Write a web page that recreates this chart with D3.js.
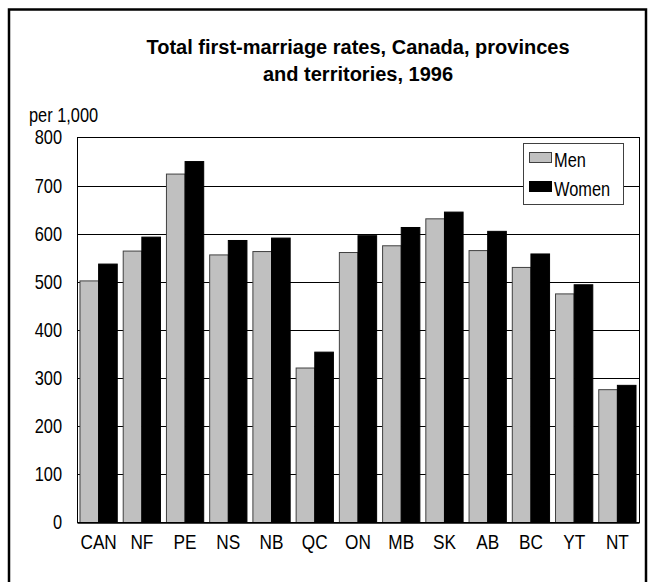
<!DOCTYPE html>
<html>
<head>
<meta charset="utf-8">
<script src="https://cdn.jsdelivr.net/npm/d3@7"></script>
<style>
  body { margin: 0; background: #fff; }
  text { font-family: "Liberation Sans", Arial, sans-serif; }
  .title { font-weight: bold; }
</style>
</head>
<body>
<div id="chart"></div>
<script>
// données : taux de primo-nuptialité, 1996 (pour 1 000)
const categories = ["CAN", "NF", "PE", "NS", "NB", "QC", "ON", "MB", "SK", "AB", "BC", "YT", "NT"];
const series = ["Men", "Women"];
const men   = [502, 564, 724, 556, 563, 321, 561, 575, 631, 565, 530, 475, 276];
const women = [537, 593, 750, 586, 591, 354, 596, 613, 645, 605, 558, 494, 285];
const yTicks = [0, 100, 200, 300, 400, 500, 600, 700, 800];

const width = 654;
const height = 582;
const plot = { left: 77, right: 639, top: 137.5, bottom: 522.5 };

// pas de police étroite installée : on comprime la Liberation Sans
const squeeze = 0.82;

const svg = d3.select("#chart")
  .append("svg")
  .attr("width", width)
  .attr("height", height);

// cadre extérieur
svg.append("rect")
  .attr("x", 9).attr("y", 9.5)
  .attr("width", 637).attr("height", 590)
  .attr("fill", "none")
  .attr("stroke", "#000")
  .attr("stroke-width", 2.5);

// titre
const titleLines = ["Total first-marriage rates, Canada, provinces", "and territories, 1996"];
svg.append("g")
  .selectAll("text")
  .data(titleLines)
  .join("text")
  .attr("class", "title")
  .attr("x", 358)
  .attr("y", (d, i) => 54 + i * 27)
  .attr("text-anchor", "middle")
  .attr("font-size", 20)
  .text(d => d);

svg.append("text")
  .attr("x", 29 / squeeze).attr("y", 122)
  .attr("transform", `scale(${squeeze},1)`)
  .attr("font-size", 20)
  .text("per 1,000");

const x0 = d3.scaleBand()
  .domain(categories)
  .range([plot.left, plot.right]);

const x1 = d3.scaleBand()
  .domain(series)
  .range([0, x0.bandwidth()])
  .paddingOuter(0.16);

const y = d3.scaleLinear()
  .domain([0, 800])
  .range([plot.bottom, plot.top]);

// grille
svg.append("g")
  .selectAll("line")
  .data(yTicks.slice(1, -1))
  .join("line")
  .attr("x1", plot.left).attr("x2", plot.right)
  .attr("y1", d => Math.round(y(d)) + 0.5)
  .attr("y2", d => Math.round(y(d)) + 0.5)
  .attr("stroke", "#000")
  .attr("stroke-width", 1);

// barres
const rows = categories.map((c, i) => ({ cat: c, Men: men[i], Women: women[i] }));

const groups = svg.append("g")
  .selectAll("g")
  .data(rows)
  .join("g")
  .attr("transform", d => `translate(${x0(d.cat)},0)`);

groups.selectAll("rect")
  .data(d => series.map(s => ({ key: s, value: d[s] })))
  .join("rect")
  .attr("x", d => x1(d.key))
  .attr("y", d => y(d.value))
  .attr("width", x1.bandwidth())
  .attr("height", d => y(0) - y(d.value))
  .attr("fill", d => d.key === "Men" ? "#c0c0c0" : "#000")
  .attr("stroke", d => d.key === "Men" ? "#404040" : "#000")
  .attr("stroke-width", 1);

// cadre de la zone de tracé
svg.append("rect")
  .attr("x", plot.left + 0.5).attr("y", plot.top)
  .attr("width", plot.right - plot.left).attr("height", plot.bottom - plot.top)
  .attr("fill", "none")
  .attr("stroke", "#000")
  .attr("stroke-width", 1);

// axes
const yAxis = svg.append("g")
  .attr("transform", `translate(${plot.left},0)`)
  .attr("font-family", null)
  .call(d3.axisLeft(y).tickValues(yTicks).tickSize(0).tickPadding(15 / squeeze));
yAxis.select(".domain").remove();
yAxis.selectAll("text")
  .attr("font-size", 20)
  .attr("fill", "#000")
  .attr("transform", `scale(${squeeze},1)`);

const xAxis = svg.append("g")
  .attr("transform", `translate(0,${plot.bottom})`)
  .attr("font-family", null)
  .call(d3.axisBottom(x0).tickSize(0).tickPadding(12));
xAxis.select(".domain").attr("stroke", "#000").attr("stroke-width", 1.5);
xAxis.selectAll("text")
  .attr("font-size", 21)
  .attr("fill", "#000")
  .attr("transform", `scale(${squeeze},1)`);

// légende
const legend = svg.append("g").attr("transform", "translate(523,143)");
legend.append("rect")
  .attr("x", 0.5).attr("y", 0.5)
  .attr("width", 100).attr("height", 61)
  .attr("fill", "#fff")
  .attr("stroke", "#404040");

series.forEach((s, i) => {
  legend.append("rect")
    .attr("x", 6.5).attr("y", 9.5 + i * 29)
    .attr("width", 22).attr("height", 10)
    .attr("fill", s === "Men" ? "#c0c0c0" : "#000")
    .attr("stroke", s === "Men" ? "#404040" : "#000");
  legend.append("text")
    .attr("x", 31 / squeeze).attr("y", 24 + i * 29)
    .attr("transform", `scale(${squeeze},1)`)
    .attr("font-size", 20)
    .text(s);
});
</script>
</body>
</html>
